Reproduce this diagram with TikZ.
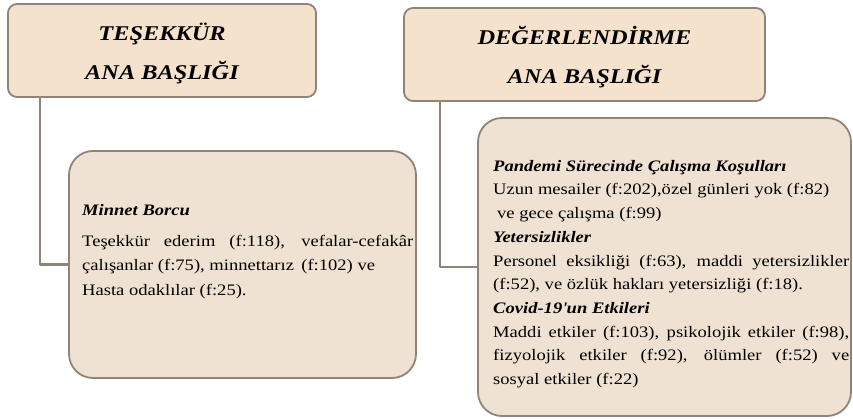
\documentclass[tikz,border=0pt]{standalone}
\usepackage{fontspec}
\setmainfont[FakeStretch=1.16]{Liberation Serif}
\definecolor{headfill}{HTML}{F4E2CD}
\definecolor{bodyfill}{HTML}{EFE2D2}
\definecolor{edge}{HTML}{8E8478}
\tikzset{
  headbox/.style={draw=edge,line width=1.8pt,fill=headfill,rounded corners=9pt,inner sep=0pt},
  headtext/.style={align=center,inner sep=0pt,yshift=-3pt,font=\fontsize{21}{39}\selectfont\bfseries\itshape},
  bodybox/.style={draw=edge,line width=1.8pt,fill=bodyfill,rounded corners=24pt,inner sep=0pt},
  bodytext/.style={inner sep=0pt,anchor=north west,align=justify,font=\fontsize{16}{23.7}\selectfont},
  link/.style={draw=edge,line width=2.4pt}
}
\newcommand{\subhead}[1]{\textbf{\textit{#1}}}
\begin{document}
\begin{tikzpicture}[x=1pt,y=-1pt,line join=round]
  \useasboundingbox (0,0) rectangle (853,419);
  % baslik kutulari
  \node[headbox,minimum width=308pt,minimum height=93pt,
    label={[headtext]center:TEŞEKKÜR\\ANA BAŞLIĞI}] (hA) at (162,50.5) {};
  \node[headbox,minimum width=361pt,minimum height=93pt,
    label={[headtext]center:DEĞERLENDİRME\\ANA BAŞLIĞI}] (hB) at (584.5,54.5) {};
  % icerik kutulari
  \node[bodybox,minimum width=347pt,minimum height=227pt] (bC) at (242.5,264.5) {};
  \node[bodybox,minimum width=373pt,minimum height=298pt] (bD) at (664.5,267) {};
  \draw[link] ([xshift=33pt]hA.south west) |- (bC.west);
  \draw[link] ([xshift=37pt]hB.south west) |- (bD.west);
  \node[bodytext,text width=331pt,font=\fontsize{16}{24.5}\selectfont] (tC) at (82,204.5) {\subhead{Minnet Borcu}\\[6pt]
    Teşekkür ederim (f:118), vefalar-cefakâr\linebreak
    çalışanlar (f:75), minnettarız\, (f:102) ve\\
    Hasta odaklılar (f:25).};
  \node[bodytext,text width=356pt] (tD) at (493,160) {\subhead{Pandemi Sürecinde Çalışma Koşulları}\\
    Uzun mesailer (f:202),özel günleri yok (f:82)\\
    \hspace*{4pt}ve gece çalışma (f:99)\\
    \subhead{Yetersizlikler}\\
    Personel eksikliği (f:63), maddi yetersizlikler\linebreak
    (f:52), ve özlük hakları yetersizliği (f:18).\\
    \subhead{Covid-19\textquotesingle un Etkileri}\\
    Maddi etkiler (f:103), psikolojik etkiler (f:98),\linebreak
    fizyolojik etkiler (f:92), ölümler (f:52) ve\linebreak
    sosyal etkiler (f:22)};
\end{tikzpicture}
\end{document}
